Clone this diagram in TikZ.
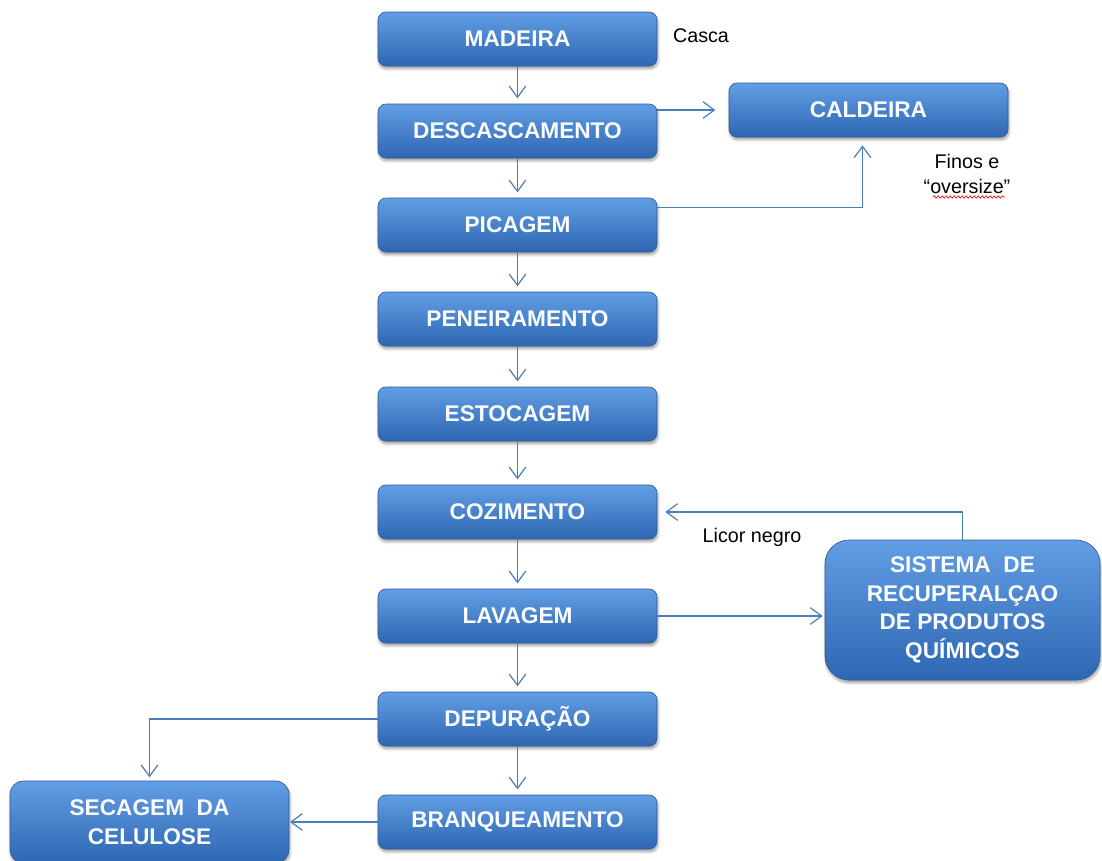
\documentclass[tikz,border=0pt]{standalone}
\usepackage{fontspec}
\setmainfont{Liberation Sans}
\newfontfamily\boxfont{Liberation Sans}
\usetikzlibrary{arrows.meta,shadows.blur,decorations.pathmorphing,calc}
\definecolor{arrowblue}{RGB}{74,126,187}
\definecolor{boxtop}{RGB}{98,158,228}
\definecolor{boxmid}{RGB}{60,124,205}
\definecolor{boxbot}{RGB}{46,102,178}
\definecolor{boxline}{RGB}{48,92,156}
\definecolor{boxtext}{RGB}{250,252,255}
\tikzset{
  stepbox/.style={draw=boxline, line width=0.5pt, rounded corners=6pt,
    top color=boxtop, middle color=boxmid, bottom color=boxbot, text=boxtext,
    font=\boxfont\bfseries\fontsize{17}{21.4}\selectfont, align=center,
    minimum width=209.25pt, minimum height=40.5pt, inner sep=0pt,
    blur shadow={shadow xshift=0.6pt, shadow yshift=-2pt, shadow opacity=40, shadow blur steps=6}},
  flow/.style={draw=arrowblue, line width=0.9pt, -{Straight Barb[length=8.5pt,width=12.5pt]}},
  lbl/.style={font=\fontsize{14.8}{18.5}\selectfont, text=black, inner sep=0pt, align=center}
}
\begin{document}
\begin{tikzpicture}[x=0.75pt,y=-0.75pt]
\useasboundingbox (0,0) rectangle (1102,860);
\node[stepbox] (madeira) at (517.5,39) {MADEIRA};
\node[stepbox] (desc) at (517.5,131) {DESCASCAMENTO};
\node[stepbox] (picagem) at (517.5,225) {PICAGEM};
\node[stepbox] (pen) at (517.5,319) {PENEIRAMENTO};
\node[stepbox] (esto) at (517.5,414) {ESTOCAGEM};
\node[stepbox] (cozi) at (517.5,512) {COZIMENTO};
\node[stepbox] (lava) at (517.5,616) {LAVAGEM};
\node[stepbox] (depu) at (517.5,719) {DEPURAÇÃO};
\node[stepbox] (bran) at (517.5,822) {BRANQUEAMENTO};
\node[stepbox] (cald) at (868.5,110) {CALDEIRA};
\node[stepbox, rounded corners=18pt, minimum width=206.25pt, minimum height=105pt] (sist) at (962.5,610)
  {SISTEMA\ \ DE\\RECUPERALÇAO\\DE PRODUTOS\\QUÍMICOS};
\node[stepbox, rounded corners=10pt, minimum height=61.5pt] (seca) at (149.5,822)
  {SECAGEM\ \ DA\\CELULOSE};

\node[lbl] (casca) at (701,36) {Casca};
\node[lbl] (finos) at (967,174) {Finos e\\“oversize”};
\node[lbl] (licor) at (752,537) {Licor negro};
\coordinate (sq1) at (933,197);
\coordinate (sq2) at (1005,197);
\draw[red, line width=0.5pt, decorate, decoration={snake, amplitude=0.9pt, segment length=3pt}] (sq1) -- (sq2);

\draw[flow, shorten >=4pt] (madeira) -- (desc);
\draw[flow, shorten >=4pt] (desc) -- (picagem);
\draw[flow, shorten >=4pt] (picagem) -- (pen);
\draw[flow, shorten >=4pt] (pen) -- (esto);
\draw[flow, shorten >=4pt] (esto) -- (cozi);
\draw[flow, shorten >=4pt] (cozi) -- (lava);
\draw[flow, shorten >=4pt] (lava) -- (depu);
\draw[flow, shorten >=4pt] (depu) -- (bran);

\draw[flow, shorten >=10pt] (cald.west -| desc.east) -- (cald.west);
\coordinate (calin) at ($(cald.south)+(-6,0)$);
\draw[flow, shorten >=6pt] ($(picagem.north east)+(0,10)$) -| (calin);
\draw[flow, shorten >=1.5pt] (lava.east) -- (lava.east -| sist.west);
\draw[flow, shorten >=6pt] (sist.north) |- (cozi.east);
\draw[flow, shorten >=2.5pt] (depu.west) -| (seca.north);
\draw[flow, shorten >=0.5pt] (bran.west) -- (bran.west -| seca.east);
\end{tikzpicture}
\end{document}
